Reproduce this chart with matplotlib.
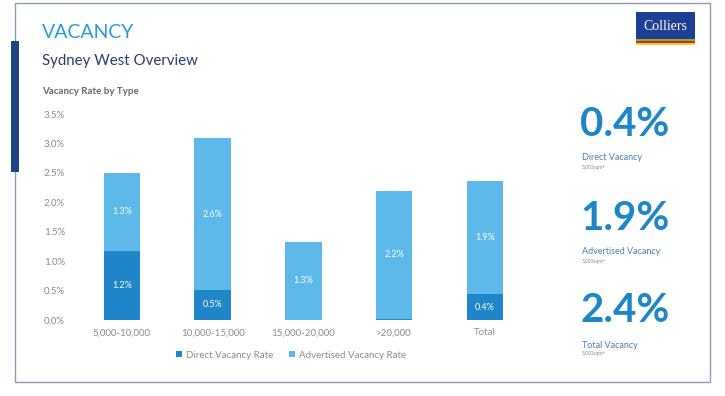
import matplotlib.pyplot as plt
import matplotlib.patches as mpatches

plt.rcParams['font.family'] = ['Lato', 'DejaVu Sans']

categories = ["5,000-10,000", "10,000-15,000", "15,000-20,000", ">20,000", "Total"]
direct = [1.17, 0.51, 0.0, 0.02, 0.44]
advertised = [1.33, 2.58, 1.33, 2.17, 1.92]
yticks = [0.0, 0.5, 1.0, 1.5, 2.0, 2.5, 3.0, 3.5]

kpi_values = ["0.4%", "1.9%", "2.4%"]
kpi_labels = ["Direct Vacancy", "Advertised Vacancy", "Total Vacancy"]

DARK = "#1f87c9"
LIGHT = "#5db9e9"
GREY = "#8c8c8c"

W, H = 725, 396
fig = plt.figure(figsize=(W / 100, H / 100), dpi=100)
fig.patch.set_facecolor("white")


def px(x, y):
    # pixel coords (top-left origin) -> figure fraction
    return x / W, 1 - y / H


# frame + left accent bar
fig.patches.append(mpatches.Rectangle(px(15, 382), 695 / W, 379 / H, transform=fig.transFigure,
                                      fill=False, edgecolor="#8e9ab5", lw=1.0))
fig.patches.append(mpatches.Rectangle(px(11, 172), 8 / W, 131 / H, transform=fig.transFigure,
                                      facecolor="#1d4489", edgecolor="none"))

# logo
fig.patches.append(mpatches.Rectangle(px(636, 45), 59 / W, 33 / H, transform=fig.transFigure,
                                      facecolor="#1d3f94", edgecolor="none"))
for i, c in enumerate(["#f4d21f", "#d9262e", "#7cb342"]):
    fig.patches.append(mpatches.Rectangle(px(636, 45 - 2 * i), 59 / W, 2 / H, transform=fig.transFigure,
                                          facecolor=c, edgecolor="none"))
fig.text(*px(665.5, 26), "Colliers", color="white", fontsize=10, family="Liberation Serif",
         ha="center", va="center")

# titles
fig.text(*px(42, 33), "VACANCY", color="#2a9ad6", fontsize=14, ha="left", va="center")
fig.text(*px(42, 61), "Sydney West Overview", color="#2d3a66", fontsize=10.8, ha="left", va="center")
fig.text(*px(42, 92), "Vacancy Rate by Type", color="#666666", fontsize=7, fontweight="bold",
         ha="left", va="center")

# chart
ax = fig.add_axes([72 / W, (H - 320) / H, 460 / W, 206 / H])
x = range(len(categories))
ax.bar(x, direct, width=0.4, color=DARK, label="Direct Vacancy Rate")
ax.bar(x, advertised, width=0.4, bottom=direct, color=LIGHT, label="Advertised Vacancy Rate")

for i in x:
    if direct[i] >= 0.1:
        ax.text(i, direct[i] / 2, f"{direct[i]:.1f}%", color="white", fontsize=6.5,
                ha="center", va="center")
    ax.text(i, direct[i] + advertised[i] / 2, f"{advertised[i]:.1f}%", color="white", fontsize=6.5,
            ha="center", va="center")

ax.set_xlim(-0.55, 4.52)
ax.set_ylim(0, 3.5)
ax.set_yticks(yticks)
ax.set_yticklabels([f"{t:.1f}%" for t in yticks])
ax.set_xticks(list(x))
ax.set_xticklabels(categories)
ax.tick_params(length=0, colors=GREY, labelsize=7)
ax.tick_params(axis="y", pad=5)
ax.tick_params(axis="x", pad=6)
for s in ax.spines.values():
    s.set_visible(False)

fig.legend(loc="center", bbox_to_anchor=px(291, 355), ncol=2, frameon=False, fontsize=7,
           labelcolor=GREY, handlelength=0.6, handleheight=0.6, handletextpad=0.4, columnspacing=1.6)

# KPI panel
kpi_y = [124, 218, 311]
for v, lab, y in zip(kpi_values, kpi_labels, kpi_y):
    fig.text(*px(580, y), v, color="#1c86c8", fontsize=29, fontweight="bold", ha="left", va="center")
    fig.text(*px(582, y + 34), lab, color="#4a7fb5", fontsize=6.5, ha="left", va="center")
    fig.text(*px(582, y + 43), "5,000sqm+", color="#888888", fontsize=3.5, ha="left", va="center")

fig.savefig("out.png", dpi=100)
